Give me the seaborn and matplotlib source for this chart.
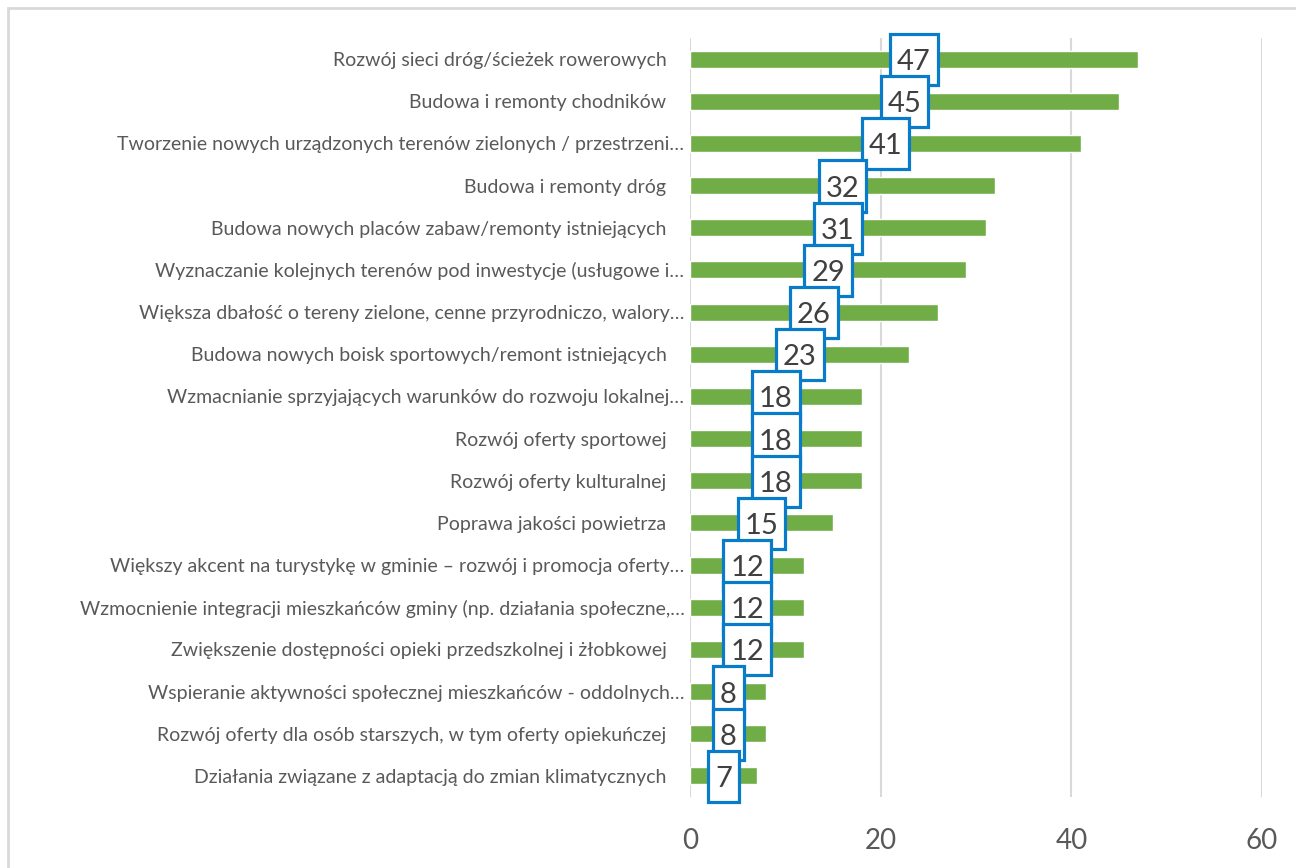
import matplotlib
matplotlib.use("Agg")
import matplotlib.pyplot as plt
import matplotlib.transforms as mtransforms
import seaborn as sns
import pandas as pd
from matplotlib.patches import Rectangle
from matplotlib.path import Path

categories = [
    "Rozwój sieci dróg/ścieżek rowerowych ",
    "Budowa i remonty chodników ",
    "Tworzenie nowych urządzonych terenów zielonych / przestrzeni…",
    "Budowa i remonty dróg ",
    "Budowa nowych placów zabaw/remonty istniejących ",
    "Wyznaczanie kolejnych terenów pod inwestycje (usługowe i…",
    "Większa dbałość o tereny zielone, cenne przyrodniczo, walory…",
    "Budowa nowych boisk sportowych/remont istniejących ",
    "Wzmacnianie sprzyjających warunków do rozwoju lokalnej…",
    "Rozwój oferty sportowej ",
    "Rozwój oferty kulturalnej ",
    "Poprawa jakości powietrza ",
    "Większy akcent na turystykę w gminie – rozwój i promocja oferty…",
    "Wzmocnienie integracji mieszkańców gminy (np. działania społeczne,…",
    "Zwiększenie dostępności opieki przedszkolnej i żłobkowej ",
    "Wspieranie aktywności społecznej mieszkańców - oddolnych…",
    "Rozwój oferty dla osób starszych, w tym oferty opiekuńczej ",
    "Działania związane z adaptacją do zmian klimatycznych ",
]
values = [47, 45, 41, 32, 31, 29, 26, 23, 18, 18, 18, 15, 12, 12, 12, 8, 8, 7]
x_ticks = [0, 20, 40, 60]

BAR_COLOR = "#70AD47"
BOX_EDGE = "#0A7BC8"
TEXT_GRAY = "#595959"

sns.set_theme(style="white")
plt.rcParams["font.family"] = ["Lato", "DejaVu Sans"]

df = pd.DataFrame({"category": categories, "value": values})

fig = plt.figure(figsize=(12.96, 8.68), dpi=100)
ax = fig.add_axes([690 / 1296, 1 - 797 / 868, 572 / 1296, (797 - 38) / 868])

sns.barplot(data=df, x="value", y="category", color=BAR_COLOR, width=0.4,
            saturation=1, ax=ax, zorder=2)

ax.set_xlim(0, 60)
ax.set_xticks(x_ticks)
ax.set_xticklabels([str(t) for t in x_ticks], fontsize=20, color=TEXT_GRAY)
ax.tick_params(axis="x", length=0, pad=22)
ax.tick_params(axis="y", length=0, pad=4, labelsize=14, labelcolor=TEXT_GRAY)
ax.set_xlabel("")
ax.set_ylabel("")
ax.grid(axis="x", color="#D9D9D9", linewidth=1.5, zorder=0)
ax.grid(axis="y", visible=False)
for s in ax.spines.values():
    s.set_visible(False)

# labels that keep their trailing space sit a little further from the axis
for lbl in ax.get_yticklabels():
    if lbl.get_text().endswith(" "):
        lbl.set_transform(lbl.get_transform() +
                          mtransforms.ScaledTranslation(-13 / 100, 0, fig.dpi_scale_trans))


def tall_box(x0, y0, width, height, mutation_size):
    """Rectangular frame, taller than the text, balanced around the digits."""
    px = 0.24 * mutation_size
    pb = 0.34 * mutation_size
    pt = 0.52 * mutation_size
    xa, ya = x0 - px, y0 - pb
    xb, yb = x0 + width + px, y0 + height + pt
    return Path([(xa, ya), (xb, ya), (xb, yb), (xa, yb), (xa, ya)], closed=True)


# value labels in boxes, centred on each bar
for i, v in enumerate(values):
    ax.annotate(str(v), xy=(v / 2, i), xytext=(0, -2.2), textcoords="offset points",
                ha="center", va="center", fontsize=21, color="#404040", zorder=5,
                bbox=dict(boxstyle=tall_box, fc="white", ec=BOX_EDGE, lw=2.3))

# light chart-area frame
fig.patches.append(Rectangle((8 / 1296, -0.1), 1.2, 1 - 8 / 868 + 0.1,
                             transform=fig.transFigure, fill=False,
                             edgecolor="#D9D9D9", linewidth=2, zorder=0))

fig.savefig("out.png", dpi=100)
